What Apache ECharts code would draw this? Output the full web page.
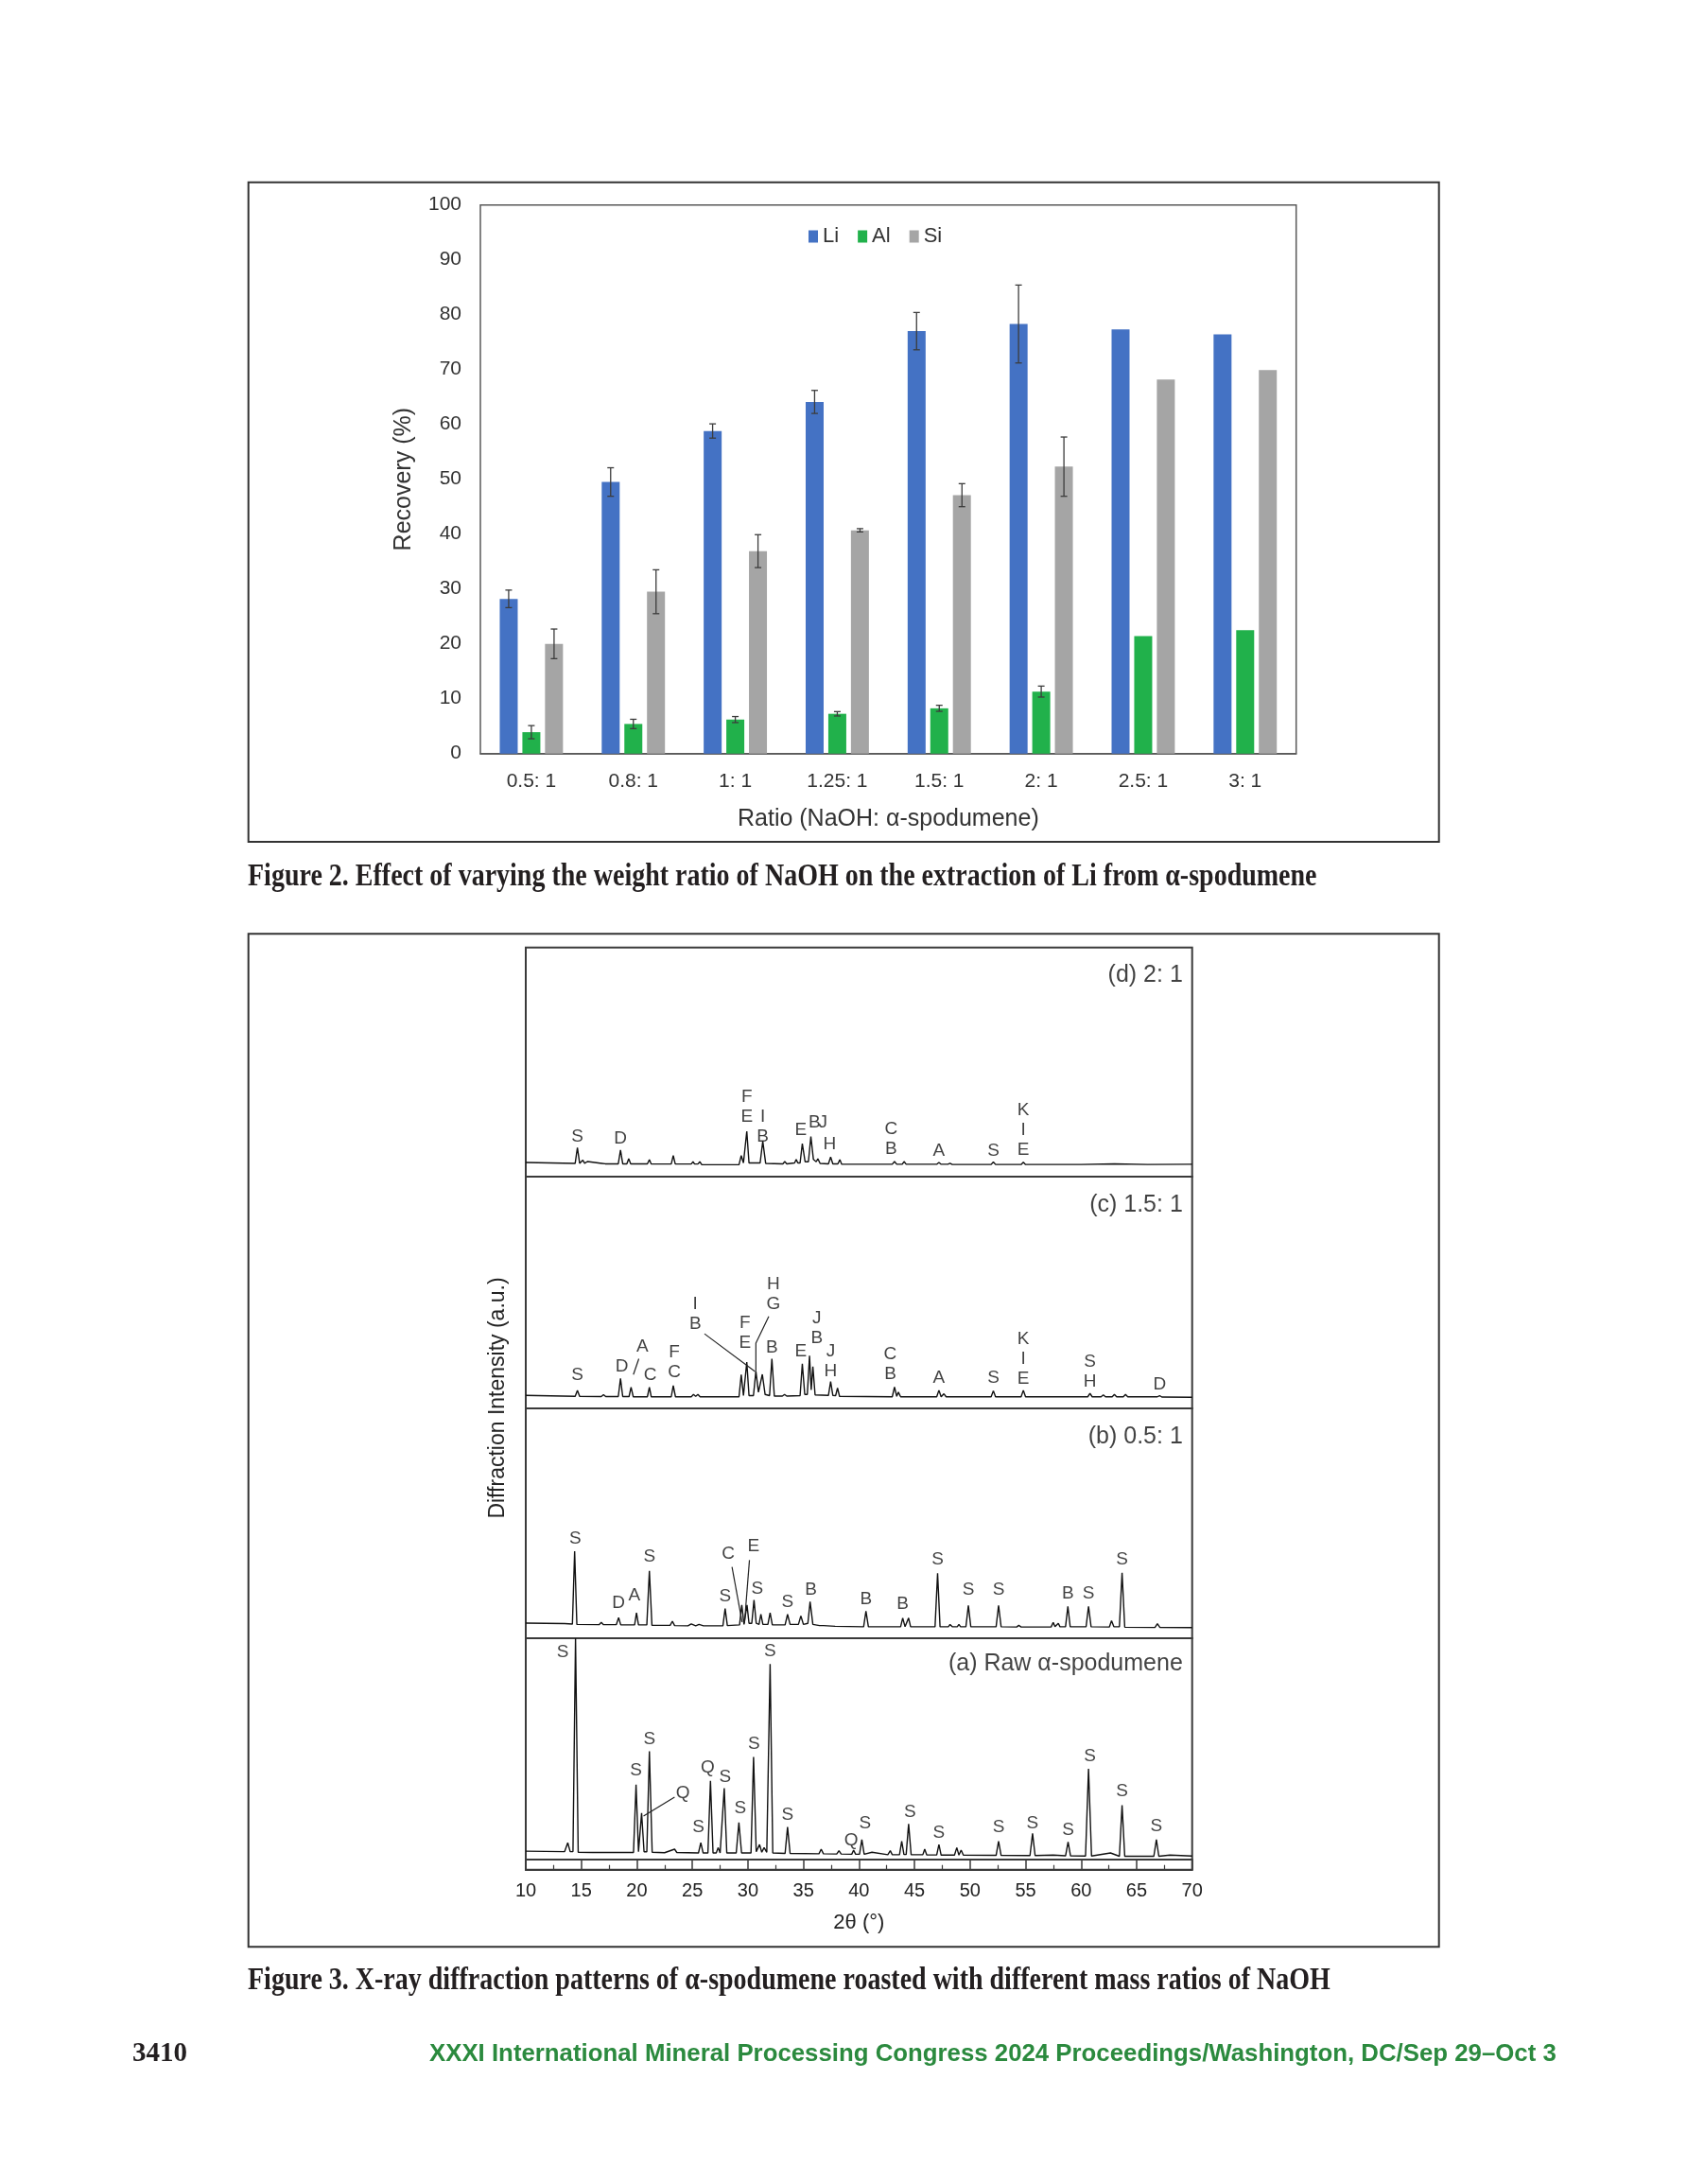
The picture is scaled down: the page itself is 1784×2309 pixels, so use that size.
<!DOCTYPE html>
<html><head><meta charset="utf-8">
<script src="https://cdn.jsdelivr.net/npm/echarts@6/dist/echarts.min.js"></script>
<style>html,body{margin:0;padding:0;background:#fff;}#c{width:1784px;height:2309px;}</style>
</head><body><div id="c"></div>
<script>
// ---------- Figure 2 data ----------
const ratios = ['0.5: 1','0.8: 1','1: 1','1.25: 1','1.5: 1','2: 1','2.5: 1','3: 1'];
const liVals = [28.2, 49.5, 58.8, 64.1, 77.0, 78.3, 77.3, 76.4];
const liErr  = [1.6, 2.6, 1.3, 2.1, 3.4, 7.1, null, null];
const alVals = [3.9, 5.4, 6.2, 7.25, 8.25, 11.3, 21.4, 22.5];
const alErr  = [1.2, 0.85, 0.55, 0.4, 0.55, 1.0, null, null];
const siVals = [20.0, 29.5, 36.9, 40.7, 47.1, 52.3, 68.2, 69.9];
const siErr  = [2.7, 4.0, 3.0, 0.3, 2.1, 5.4, null, null];
const yTicks2 = {min:0, max:100, interval:10};

// ---------- Figure 3 data: [2theta, intensity (% of panel height)] ----------
const xrdD = [[10,6.2],[14.45,5.8],[14.65,12.7],[14.85,5.8],[15.0,5.8],[15.14,7.2],[15.3,5.8],[15.45,5.8],[15.55,6.6],[15.7,5.8],[16.85,5.8],[17.0,6.6],[17.15,5.6],[18.33,5.6],[18.53,11.6],[18.73,5.6],[19.1,5.6],[19.27,7.8],[19.45,5.6],[20.95,5.6],[21.13,7.4],[21.3,5.5],[23.1,5.5],[23.28,9.2],[23.46,5.5],[24.9,5.5],[25.06,6.5],[25.2,5.5],[25.5,5.5],[25.67,6.5],[25.85,5.2],[29.2,5.2],[29.4,9.2],[29.6,6],[29.7,6],[29.9,19.8],[30.1,6],[31.1,6],[31.34,15.4],[31.6,5.8],[33.15,5.6],[33.32,6.6],[33.5,5.6],[34.2,6],[34.35,7.5],[34.5,6],[34.7,6],[34.9,14.4],[35.15,6.5],[35.45,6.5],[35.67,17.5],[35.9,7.5],[36.15,6.5],[36.3,7.8],[36.5,5.8],[37.25,5.6],[37.45,8.6],[37.65,5.6],[38.1,5.6],[38.28,7.4],[38.45,5.4],[43.0,5.4],[43.2,6.6],[43.4,5.4],[43.9,5.4],[44.06,6.6],[44.25,5.4],[47.0,5.4],[47.2,6.2],[47.4,5.4],[48.0,5.4],[48.2,5.8],[48.4,5.3],[51.9,5.3],[52.1,6.4],[52.3,5.3],[54.6,5.3],[54.8,6.3],[55.0,5.3],[60,5.3],[63,5.6],[66,5.3],[70,5.4]];
const xrdC = [[10,5.6],[14.45,5.2],[14.65,7.8],[14.85,5.2],[16.8,5.1],[17.0,5.9],[17.2,5.1],[18.33,5.1],[18.53,12.9],[18.73,5.1],[19.3,5.1],[19.48,9.1],[19.68,5.0],[20.95,5.0],[21.13,9.1],[21.3,5.0],[23.1,5.0],[23.28,9.8],[23.48,5.0],[24.9,5.0],[25.1,6.0],[25.3,5.2],[25.5,6.0],[25.7,5.0],[29.2,5.0],[29.4,14.6],[29.6,5.5],[29.7,5.5],[29.9,20],[30.1,5.5],[30.5,5.5],[30.72,16],[30.95,7],[31.1,7],[31.3,14.7],[31.55,6],[31.95,5.5],[32.16,21.4],[32.38,5.3],[33.1,5.3],[33.3,6.0],[33.5,5.3],[34.7,5.5],[34.9,19.3],[35.12,6],[35.35,6],[35.55,22.7],[35.7,8],[35.85,18],[36.05,5.8],[37.25,5.6],[37.45,11.6],[37.65,5.6],[37.9,5.5],[38.07,8.8],[38.25,5.2],[43.0,5.0],[43.2,9.2],[43.4,5.2],[43.55,7],[43.75,5.0],[47.0,5.0],[47.2,7.8],[47.4,5.0],[47.65,6.3],[47.85,5.0],[51.9,5.0],[52.1,7.6],[52.3,5.0],[54.6,5.0],[54.8,7.8],[55.0,5.0],[60.6,5.0],[60.8,6.5],[61.0,5.0],[61.8,5.0],[62.0,5.8],[62.2,5.0],[62.8,5.0],[63.0,6.0],[63.2,5.0],[63.8,5.0],[64.0,6.0],[64.2,5.0],[66.87,5.0],[67.07,5.5],[67.27,4.9],[70,4.8]];
const xrdB = [[10,6.6],[13.5,6.4],[14.2,6.2],[14.4,37.9],[14.6,6.0],[16.6,5.9],[16.8,6.9],[17.0,5.9],[18.15,5.9],[18.36,9.0],[18.55,5.8],[19.8,5.8],[19.97,11.1],[20.15,5.8],[20.9,5.8],[21.13,29.3],[21.36,5.6],[23.0,5.6],[23.2,7.4],[23.4,5.5],[24.6,5.4],[24.9,6.2],[25.3,5.4],[25.6,6.0],[26.0,5.4],[27.75,5.4],[27.95,12.9],[28.15,5.5],[29.25,5.8],[29.45,14.5],[29.65,6.0],[29.75,6.5],[29.92,14.5],[30.1,6.5],[30.35,6.5],[30.55,16.6],[30.75,6.5],[31.0,6.0],[31.17,10.4],[31.35,6.0],[31.8,6.0],[32.0,11.1],[32.2,5.8],[33.35,5.8],[33.57,10.4],[33.8,6.0],[34.55,6.0],[34.77,9.7],[35.0,6.0],[35.4,6.5],[35.6,15.9],[35.85,6.0],[36.45,5.5],[36.6,6.3],[36.8,5.5],[37.5,5.3],[37.66,5.6],[37.85,5.2],[40.42,5.0],[40.63,11.8],[40.85,5.0],[43.75,5.0],[43.94,8.8],[44.15,5.0],[44.28,5.0],[44.47,8.8],[44.65,5.0],[46.85,5.0],[47.08,28.3],[47.3,5.0],[48.05,5.0],[48.2,6.0],[48.4,5.0],[48.85,5.0],[49.0,6.0],[49.15,5.0],[49.63,5.0],[49.85,14.3],[50.07,5.0],[52.35,5.0],[52.57,14.3],[52.8,5.0],[54.2,4.9],[54.39,5.6],[54.6,4.9],[57.3,4.9],[57.49,6.9],[57.65,5.0],[57.8,5.0],[57.95,6.5],[58.1,5.0],[58.6,5.0],[58.81,13.9],[59.02,5.0],[60.45,5.0],[60.67,13.9],[60.9,5.0],[62.55,4.9],[62.74,7.6],[62.95,5.0],[63.45,5.0],[63.69,28.5],[63.93,4.8],[66.65,4.7],[66.87,6.3],[67.1,4.7],[70,4.6]];
const xrdA = [[10,3.8],[13.5,3.6],[13.78,7.6],[14.0,3.6],[14.25,3.6],[14.48,100],[14.72,3.3],[16,3.2],[19.7,3.2],[19.93,33.9],[20.15,3.5],[20.25,3.5],[20.43,21],[20.65,3.5],[20.9,3.5],[21.13,48.9],[21.38,3.3],[22.5,3.1],[23.4,4.7],[23.6,3.2],[25.55,3.0],[25.76,7.6],[25.97,3.0],[26.4,3.0],[26.63,35.6],[26.86,3.0],[27.15,3.0],[27.33,5.4],[27.5,3.0],[27.65,3.0],[27.87,32.2],[28.1,3.0],[28.95,3.0],[29.19,16.8],[29.43,3.0],[30.28,3.0],[30.51,46.4],[30.75,3.5],[31.05,6.8],[31.25,3.3],[31.46,5.4],[31.7,3.3],[31.78,3.3],[32.0,88.3],[32.24,3.0],[33.35,2.8],[33.57,14.7],[33.8,2.8],[36.4,2.6],[36.6,4.7],[36.8,2.6],[38.0,2.5],[38.2,4.0],[38.4,2.5],[39.35,2.4],[39.52,4.3],[39.7,2.4],[40.05,2.4],[40.26,9.0],[40.47,2.4],[41.17,3.3],[42.6,2.2],[42.82,4.0],[43.0,2.2],[43.65,2.2],[43.85,8.3],[44.05,2.3],[44.25,2.3],[44.47,16.1],[44.7,2.2],[45.75,2.2],[45.92,4.7],[46.1,2.1],[47.0,2.1],[47.2,6.8],[47.4,2.0],[48.6,2.0],[48.81,5.4],[49.0,2.0],[49.2,4.3],[49.4,2.0],[52.35,1.9],[52.57,8.3],[52.8,1.9],[55.4,1.8],[55.63,11.8],[55.86,1.8],[57.5,2.0],[58.6,1.7],[58.83,8.0],[59.05,1.7],[60.4,1.6],[60.67,41],[60.94,1.6],[62.65,3.0],[63.45,1.5],[63.69,24.6],[63.93,1.5],[66.55,1.5],[66.78,9.0],[67.0,1.5],[68,2.0],[70,1.6]];

// peak labels: [2theta, label bottom (% of panel), text]
const labelsD = [[14.65,12.4,'S'],[18.53,11.7,'D'],[29.9,21.1,'F\nE'],[31.34,12.4,'I\nB'],[34.77,15.2,'E'],[36.0,18.6,'B'],[36.75,18.6,'J'],[37.37,9,'H'],[42.9,7.3,'C\nB'],[47.2,6.2,'A'],[52.1,6.2,'S'],[54.8,6.5,'K\nI\nE']];
const labelsC = [[14.65,9.3,'S'],[18.65,13.2,'D'],[20.5,21.8,'A'],[21.2,9.5,'C'],[23.37,10.9,'F\nC'],[25.26,31.6,'I\nB'],[29.73,23.4,'F\nE'],[32.29,39.9,'H\nG'],[32.16,21.5,'B'],[34.77,19.5,'E'],[36.21,25.2,'J\nB'],[37.45,11.3,'J\nH'],[42.82,9.8,'C\nB'],[47.2,8.2,'A'],[52.1,8.2,'S'],[54.8,7.9,'K\nI\nE'],[60.8,6.8,'S\nH'],[67.07,5.2,'D']];
const labelsB = [[14.45,38.3,'S'],[18.36,10.2,'D'],[19.77,13.6,'A'],[21.13,30.5,'S'],[27.95,13.3,'S'],[28.24,31.8,'C'],[30.51,34.9,'E'],[30.84,16.7,'S'],[33.57,10.8,'S'],[35.67,16.3,'B'],[40.63,11.9,'B'],[43.94,9.8,'B'],[47.08,29.3,'S'],[49.85,16.3,'S'],[52.57,16.3,'S'],[58.81,14.7,'B'],[60.67,14.7,'S'],[63.69,29.3,'S']];
const labelsA = [[13.32,88.5,'S'],[19.93,35,'S'],[21.13,49.3,'S'],[24.15,24.8,'Q'],[26.38,36.5,'Q'],[27.95,32.2,'S'],[25.55,9.4,'S'],[29.31,17.9,'S'],[30.55,47.1,'S'],[32.0,89.2,'S'],[33.57,15.1,'S'],[39.31,3.7,'Q'],[40.55,11.2,'S'],[44.6,16.5,'S'],[47.2,7,'S'],[52.57,9.4,'S'],[55.63,11.2,'S'],[58.83,8.4,'S'],[60.8,41.5,'S'],[63.69,25.8,'S'],[66.78,10.1,'S']];
// leader lines
const leadersD = [];
const leadersC = [[[19.69,14.6],[20.18,21.4]], [[26.09,32.2],[30.64,15.9]], [[31.88,39.7],[30.72,28.2],[30.72,16]]];
const leadersB = [[[28.57,31.0],[29.48,7]], [[30.14,34.0],[29.69,6.5]]];
const leadersA = [[[23.4,28.2],[20.6,19.7]]];
const panelTitles = ['(d) 2: 1','(c) 1.5: 1','(b) 0.5: 1','(a) Raw α-spodumene'];
const xTicks3 = {min:10, max:70, interval:5};

// ---------- layout ----------
const FONT = '"Liberation Sans", Arial, sans-serif';
const chart = echarts.init(document.getElementById('c'));
const panelBoxes = [
  {top:1001.7, height:242.3},
  {top:1244, height:245},
  {top:1489, height:243},
  {top:1732, height:234}
];
const P_LEFT = 556, P_WIDTH = 704.7;

const grids = [{left:508, top:216.7, width:862.7, height:580, show:true, borderColor:'#595959', borderWidth:1.5, backgroundColor:'transparent'}];
panelBoxes.forEach(b => grids.push({left:P_LEFT, top:b.top, width:P_WIDTH, height:b.height, show:true, borderColor:'#3a3a3a', borderWidth:2}));
grids.push({left:P_LEFT, top:1966, width:P_WIDTH, height:10.7, show:true, borderColor:'#3a3a3a', borderWidth:2});

const xAxes = [{
  type:'category', gridIndex:0, data:ratios,
  axisLine:{show:true, lineStyle:{color:'#595959', width:1.5}}, axisTick:{show:false},
  axisLabel:{fontSize:21, color:'#333', margin:19, fontFamily:FONT},
  name:'Ratio (NaOH: α-spodumene)', nameLocation:'middle', nameGap:57,
  nameTextStyle:{fontSize:25, color:'#333', fontFamily:FONT}
}];
const yAxes = [{
  type:'value', gridIndex:0, min:yTicks2.min, max:yTicks2.max, interval:yTicks2.interval,
  axisLine:{show:false}, axisTick:{show:false}, splitLine:{show:false},
  axisLabel:{fontSize:21, color:'#333', margin:20, fontFamily:FONT},
  name:'Recovery (%)', nameLocation:'middle', nameGap:68,
  nameTextStyle:{fontSize:25, color:'#333', fontFamily:FONT}
}];
for (let i=1;i<=4;i++){
  xAxes.push({type:'value', gridIndex:i, min:xTicks3.min, max:xTicks3.max, interval:xTicks3.interval, show:false});
  yAxes.push({type:'value', gridIndex:i, min:0, max:100, show:false});
}
xAxes.push({type:'value', gridIndex:5, min:xTicks3.min, max:xTicks3.max, interval:xTicks3.interval,
  axisLine:{show:true, lineStyle:{color:'#3a3a3a', width:2}},
  axisTick:{show:true, inside:true, length:10, lineStyle:{color:'#3a3a3a', width:1.5}},
  minorTick:{show:true, splitNumber:2, length:5, lineStyle:{color:'#3a3a3a', width:1.2}},
  splitLine:{show:false},
  axisLabel:{fontSize:20, color:'#222', margin:13, fontFamily:FONT},
  name:'2θ (°)', nameLocation:'middle', nameGap:45,
  nameTextStyle:{fontSize:22, color:'#222', fontFamily:FONT}
});
yAxes.push({type:'value', gridIndex:5, min:0, max:1, show:false});

// ---------- series ----------
const series = [];
const barBase = {type:'bar', xAxisIndex:0, yAxisIndex:0, barWidth:19, barGap:'26%'};
series.push(Object.assign({name:'Li', data:liVals, itemStyle:{color:'#4472C4'}}, barBase));
series.push(Object.assign({name:'Al', data:alVals, itemStyle:{color:'#21B14B'}}, barBase));
series.push(Object.assign({name:'Si', data:siVals, itemStyle:{color:'#A5A5A5'}}, barBase));

function errSeries(vals, errs, offset){
  const data = [];
  vals.forEach((v,i)=>{ if (errs[i]!=null) data.push([i, v-errs[i], v+errs[i]]); });
  return {type:'custom', xAxisIndex:0, yAxisIndex:0, z:10, silent:true, data:data,
    encode:{x:0, y:[1,2]},
    renderItem:function(params, api){
      const lo = api.coord([api.value(0), api.value(1)]);
      const hi = api.coord([api.value(0), api.value(2)]);
      const x = lo[0] + offset, c = 3.5;
      const st = {stroke:'#3c3c3c', lineWidth:1.3};
      return {type:'group', children:[
        {type:'line', shape:{x1:x, y1:lo[1], x2:x, y2:hi[1]}, style:st},
        {type:'line', shape:{x1:x-c, y1:hi[1], x2:x+c, y2:hi[1]}, style:st},
        {type:'line', shape:{x1:x-c, y1:lo[1], x2:x+c, y2:lo[1]}, style:st}
      ]};
    }};
}
series.push(errSeries(liVals, liErr, -24));
series.push(errSeries(alVals, alErr, 0));
series.push(errSeries(siVals, siErr, 24));

const spectra = [xrdD, xrdC, xrdB, xrdA];
const labelSets = [labelsD, labelsC, labelsB, labelsA];
const leaderSets = [leadersD, leadersC, leadersB, leadersA];
spectra.forEach((d, k) => {
  const ai = k+1;
  series.push({type:'line', xAxisIndex:ai, yAxisIndex:ai, data:d, showSymbol:false, symbol:'none', clip:true,
    lineStyle:{color:'#111', width:1.4}, silent:true, animation:false});
  series.push({type:'scatter', xAxisIndex:ai, yAxisIndex:ai, data:labelSets[k], symbolSize:1, silent:true,
    itemStyle:{color:'rgba(0,0,0,0)'},
    label:{show:true, position:'top', distance:1, formatter:p=>p.data[2], fontSize:19, lineHeight:21,
      color:'#111', fontFamily:FONT, align:'center'}});
  leaderSets[k].forEach(seg => series.push({type:'line', xAxisIndex:ai, yAxisIndex:ai, data:seg, showSymbol:false, symbol:'none',
    lineStyle:{color:'#222', width:1.2}, silent:true}));
  series.push({type:'scatter', xAxisIndex:ai, yAxisIndex:ai, data:[[69.2, k===3?88.3:87.7, panelTitles[k]]], symbolSize:1, silent:true,
    itemStyle:{color:'rgba(0,0,0,0)'},
    label:{show:true, position:'left', distance:0, formatter:p=>p.data[2], fontSize:25, color:'#111', fontFamily:FONT}});
});

const graphic = [
  {type:'rect', shape:{x:262.7, y:192.7, width:1259, height:697.3}, style:{fill:'none', stroke:'#333', lineWidth:2}, silent:true},
  {type:'rect', shape:{x:262.7, y:987.3, width:1259, height:1071}, style:{fill:'none', stroke:'#333', lineWidth:2}, silent:true},
  {type:'text', x:527, y:1478, rotation:Math.PI/2, silent:true,
    style:{text:'Diffraction Intensity (a.u.)', font:'23px '+FONT, fill:'#222', align:'center', verticalAlign:'middle'}},
  {type:'text', x:262, y:927, scaleY:1.2, silent:true,
    style:{text:'Figure 2. Effect of varying the weight ratio of NaOH on the extraction of Li from α-spodumene', font:'bold 28px "Liberation Serif", "Times New Roman", serif', fill:'#231f20', align:'left', verticalAlign:'middle'}},
  {type:'text', x:262, y:2094, scaleY:1.2, silent:true,
    style:{text:'Figure 3. X-ray diffraction patterns of α-spodumene roasted with different mass ratios of NaOH', font:'bold 28px "Liberation Serif", "Times New Roman", serif', fill:'#231f20', align:'left', verticalAlign:'middle'}},
  {type:'text', x:140, y:2172, silent:true,
    style:{text:'3410', font:'bold 29px "Liberation Serif", "Times New Roman", serif', fill:'#231f20', align:'left', verticalAlign:'middle'}},
  {type:'text', x:454, y:2172, silent:true,
    style:{text:'XXXI International Mineral Processing Congress 2024 Proceedings/Washington, DC/Sep 29–Oct 3', font:'bold 25.8px '+FONT, fill:'#2b8a3e', align:'left', verticalAlign:'middle'}}
];

chart.setOption({
  animation:false,
  backgroundColor:'#ffffff',
  textStyle:{fontFamily:FONT},
  grid:grids, xAxis:xAxes, yAxis:yAxes,
  legend:{data:['Li','Al','Si'], left:850, top:234, itemWidth:10, itemHeight:13, itemGap:20, icon:'rect',
    textStyle:{fontSize:22, color:'#333', fontFamily:FONT}, selectedMode:false},
  series:series,
  graphic:graphic
});
</script></body></html>
